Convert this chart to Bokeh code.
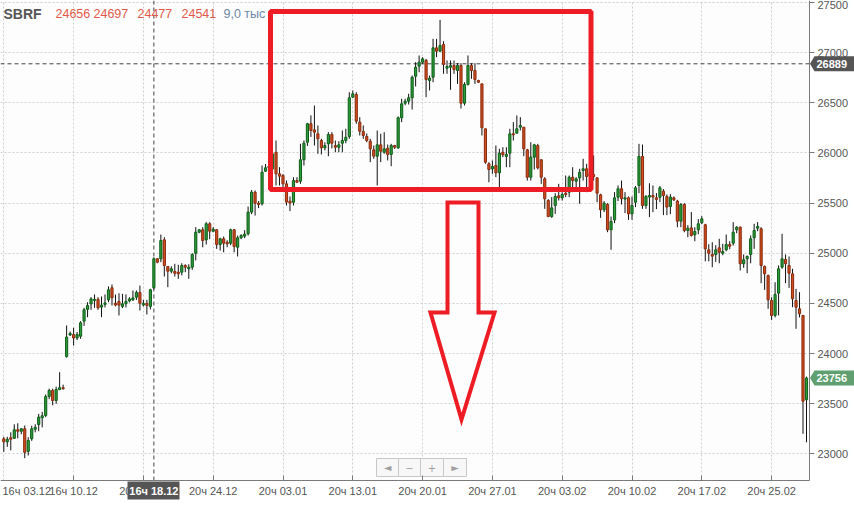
from bokeh.plotting import figure
from bokeh.models import (Range1d, FixedTicker, BoxAnnotation, ColumnDataSource,
                          LinearAxis, Grid)
from bokeh.embed import file_html
from bokeh.resources import INLINE
from bokeh.core.properties import value

# ---------------- data ----------------
symbol = "SBRF"
header_values = ["24656", "24697", "24477", "24541"]
header_volume = "9,0 тыс"

opens = [23150, 23120, 23160, 23155, 23240, 23225, 23250, 23025, 23150, 23245, 23293, 23360, 23383, 23572, 23632, 23532, 23640, 23660,
         23970, 24185, 24190, 24155, 24173, 24323, 24440, 24495, 24530, 24540, 24463, 24490, 24536, 24656, 24502, 24519, 24470, 24496, 24525, 24535, 24562, 24609, 24485, 24500, 24470,
         24656, 24945, 24944, 25134, 24868, 24821, 24818, 24811, 24811, 24878, 24845, 24861, 25000, 25210, 25234, 25134, 25294, 25220, 25234, 25087, 25144, 25110, 25100, 25234, 25060, 25154, 25170, 25194, 25410, 25609, 25499, 25493, 25818,
         25850, 25840, 26007, 25792, 25775, 25692, 25520, 25509, 25725, 25718, 25932, 26107, 26291, 26230,
         26191, 26124, 26051, 26091, 26184, 26074, 26057, 26097, 26124, 26164, 26556, 26583, 26307, 26214, 26164, 26117, 26031, 25968, 26081, 26007, 26047, 25985, 26074, 26051, 26351, 26496, 26516, 26550, 26765, 26865, 26905, 26922, 26722, 26755, 27048, 27015, 27081, 26845, 26855, 26872, 26822,
         26872, 26496, 26683, 26872, 26822, 26722, 26689, 26241, 25892, 25842, 25875, 25802, 26007, 25965, 25998, 26191, 26197, 26257, 26257, 26031, 25758, 25958, 26074, 25932, 25742, 25526, 25366, 25476, 25573, 25553, 25599, 25609, 25758, 25718, 25752, 25825, 25842, 25770,
         25785, 25752, 25583, 25433, 25486, 25234, 25333, 25559, 25643, 25540, 25553, 25393, 25509, 25676, 25965, 25476, 25560, 25576, 25553, 25559, 25619, 25566, 25466, 25553, 25520, 25320, 25486, 25227, 25253, 25184, 25234, 25304, 25284, 25034, 24988, 24988, 25054, 25000, 25034, 25087, 25100, 25234, 25260, 24895, 24945, 24988, 25154, 25250, 25244, 24868, 24778, 24529, 24380, 24602, 24861, 24938, 24878, 24795, 24529, 24446, 24380, 23540]

closes = [23120, 23145, 23145, 23240, 23225, 23250, 23015, 23133, 23250, 23265, 23366, 23380, 23572, 23632, 23532, 23642, 23660, 23650,
          24164, 24200, 24155, 24190, 24307, 24436, 24479, 24545, 24540, 24456, 24483, 24505, 24636, 24556, 24483, 24483, 24496, 24519, 24545, 24555, 24609, 24502, 24500, 24480, 24636,
          24945, 24911, 25127, 24878, 24821, 24845, 24800, 24795, 24878, 24861, 24861, 24988, 25210, 25234, 25127, 25294, 25220, 25240, 25087, 25144, 25100, 25094, 25234, 25067, 25154, 25177, 25190, 25410, 25609, 25499, 25486, 25808, 25852,
          25870, 25990, 25792, 25768, 25692, 25510, 25500, 25725, 25708, 25932, 26097, 26291, 26224, 26207,
          26141, 26051, 26074, 26184, 26097, 26057, 26081, 26124, 26157, 26550, 26590, 26317, 26217, 26174, 26124, 26041, 25968, 26081, 26017, 26041, 25985, 26074, 26057, 26351, 26490, 26516, 26550, 26755, 26855, 26905, 26938, 26732, 26745, 27048, 27015, 27071, 26882, 26862, 26872, 26832, 26872,
          26496, 26683, 26872, 26822, 26732, 26705, 26251, 25908, 25835, 25865, 25802, 25998, 25982, 25985, 26191, 26181, 26241, 26274, 26041, 25758, 25958, 26081, 25852, 25758, 25543, 25366, 25453, 25566, 25553, 25586, 25586, 25758, 25725, 25742, 25808, 25842, 25765, 25800,
          25765, 25599, 25433, 25499, 25234, 25317, 25553, 25643, 25543, 25553, 25393, 25476, 25652, 25965, 25476, 25566, 25576, 25560, 25536, 25652, 25576, 25460, 25560, 25533, 25320, 25486, 25227, 25250, 25177, 25217, 25294, 25343, 25044, 25000, 24971, 25034, 25010, 25017, 25087, 25070, 25210, 25260, 24895, 24935, 24968, 25144, 25227, 25267, 24878, 24795, 24536, 24380, 24589, 24845, 24945, 24895, 24801, 24546, 24462, 24396, 23525, 23756]

highs = [23170, 23170, 23215, 23295, 23305, 23255, 23283, 23166, 23280, 23295, 23399, 23419, 23592, 23650, 23650, 23670, 23814, 23690,
         24280, 24220, 24257, 24215, 24323, 24456, 24512, 24562, 24589, 24562, 24569, 24589, 24669, 24689, 24589, 24602, 24595, 24589, 24562, 24629, 24629, 24678, 24535, 24535, 24646,
         24960, 24950, 25187, 25160, 24870, 24870, 24895, 24885, 24900, 24890, 24890, 25000, 25260, 25240, 25260, 25310, 25310, 25260, 25240, 25154, 25167, 25130, 25245, 25240, 25177, 25190, 25230, 25466, 25630, 25626, 25520, 25875, 25890,
         25920, 26124, 26124, 25858, 25790, 25725, 25566, 25758, 25758, 26091, 26124, 26300, 26375, 26473,
         26274, 26141, 26107, 26207, 26207, 26124, 26117, 26224, 26241, 26606, 26623, 26606, 26357, 26274, 26194, 26141, 26074, 26224, 26191, 26207, 26084, 26091, 26080, 26364, 26540, 26540, 26590, 26772, 26905, 26972, 26955, 26938, 26772, 27138, 27138, 27327, 27114, 26922, 26922, 26922, 26895,
         26895, 26705, 26972, 26895, 26895, 26730, 26689, 26241, 25908, 25925, 26074, 26041, 26057, 26057, 26241, 26307, 26374, 26357, 26257, 26041, 26107, 26091, 26091, 25935, 25758, 25540, 25560, 25599, 25692, 25609, 25775, 25775, 25858, 25758, 25842, 25942, 25892, 25850,
         25975, 25758, 25593, 25520, 25500, 25366, 25610, 25676, 25725, 25610, 25566, 25566, 25670, 26091, 26084, 25580, 25698, 25676, 25600, 25670, 25640, 25586, 25590, 25566, 25533, 25500, 25500, 25280, 25410, 25260, 25340, 25370, 25294, 25090, 25110, 25080, 25144, 25094, 25187, 25120, 25310, 25270, 25267, 24988, 24978, 25177, 25294, 25310, 25260, 24878, 24788, 24562, 24711, 24878, 25194, 24988, 24968, 24845, 24645, 24612, 24385, 23770]

lows = [23020, 23070, 23035, 23150, 23155, 23195, 22957, 22984, 23130, 23215, 23226, 23264, 23366, 23545, 23485, 23500, 23640, 23640,
        23960, 24175, 24080, 24135, 24147, 24276, 24363, 24436, 24456, 24436, 24363, 24460, 24512, 24479, 24470, 24380, 24453, 24460, 24510, 24525, 24535, 24429, 24470, 24390, 24440,
        24640, 24900, 24911, 24768, 24662, 24800, 24768, 24745, 24780, 24811, 24745, 24835, 24928, 25200, 25060, 25087, 25140, 25210, 25044, 25027, 25010, 25060, 25080, 25010, 24968, 25140, 25150, 25177, 25390, 25376, 25450, 25476, 25810,
        25800, 25800, 25676, 25676, 25620, 25476, 25420, 25476, 25700, 25692, 25875, 26070, 26160, 26074,
        25992, 25985, 26025, 25968, 26045, 26007, 26007, 26007, 26097, 26141, 26550, 26291, 26174, 26141, 26107, 25908, 25942, 25676, 25908, 25992, 25925, 25868, 26040, 26041, 26307, 26476, 26483, 26433, 26663, 26805, 26889, 26556, 26623, 26705, 26955, 27005, 26789, 26789, 26630, 26789, 26689,
        26443, 26473, 26673, 26739, 26689, 26700, 26174, 25892, 25708, 25792, 25758, 25659, 25958, 25858, 25858, 26124, 26197, 26224, 25968, 25725, 25725, 25835, 25835, 25692, 25443, 25360, 25353, 25393, 25526, 25526, 25559, 25559, 25609, 25645, 25493, 25725, 25609, 25740,
        25725, 25509, 25353, 25410, 25210, 25034, 25300, 25520, 25486, 25400, 25333, 25333, 25460, 25599, 25443, 25443, 25360, 25410, 25440, 25510, 25380, 25380, 25390, 25520, 25260, 25260, 25210, 25160, 25167, 25120, 25190, 25290, 24920, 24920, 24861, 24914, 24900, 24980, 25020, 25040, 25077, 25200, 24828, 24855, 24801, 24900, 25044, 25220, 24702, 24635, 24446, 24336, 24360, 24380, 24845, 24702, 24655, 24462, 24247, 24360, 23200, 23115]

candle_index = list(range(len(opens)))

tick_index = [0, 20, 40, 60, 80, 100, 120, 140, 160, 180, 200, 220]
tick_labels = ["16ч 03.12", "16ч 10.12", "20ч 17.12", "20ч 24.12", "20ч 03.01", "20ч 13.01",
               "20ч 20.01", "20ч 27.01", "20ч 03.02", "20ч 10.02", "20ч 17.02", "20ч 25.02"]
price_ticks = [23000, 23500, 24000, 24500, 25000, 25500, 26000, 26500, 27000, 27500]

cursor_index = 43
cursor_label = "16ч 18.12"
cursor_price = 26889
last_price = 23756
zoom_buttons = ["◄", "−", "+", "►"]

# ---------------- layout helpers (pixel -> data) ----------------
W, H = 854, 505
AXIS_PX_X, AXIS_PX_Y = 809, 480


def ix(px):
    return (px - 3.3) / 3.49


def iy(py):
    return 27520 - 9.97 * py


X_START, X_AXIS, X_END = ix(0), ix(AXIS_PX_X), ix(W)
Y_END, Y_AXIS, Y_BOTTOM = iy(0), iy(AXIS_PX_Y), iy(H)

FONT = "Liberation Sans"
GREY = "#555555"
RED = "#ee1c25"

p = figure(width=W, height=H, output_backend="svg", toolbar_location=None,
           x_range=Range1d(X_START, X_END), y_range=Range1d(Y_BOTTOM, Y_END),
           x_axis_location=None, y_axis_location=None,
           min_border_left=0, min_border_right=0, min_border_top=0, min_border_bottom=0)
p.background_fill_color = "#fdfdfd"
p.border_fill_color = "#ffffff"
p.outline_line_color = None
p.grid.visible = False

# white margins (axis areas)
p.add_layout(BoxAnnotation(left=X_AXIS, fill_color="#ffffff", fill_alpha=1, line_alpha=0, level="underlay"))
p.add_layout(BoxAnnotation(top=Y_AXIS, fill_color="#ffffff", fill_alpha=1, line_alpha=0, level="underlay"))

# grids
xgrid = Grid(dimension=0, ticker=FixedTicker(ticks=tick_index), grid_line_color="#cfcfcf", grid_line_dash="2 2")
ygrid = Grid(dimension=1, ticker=FixedTicker(ticks=price_ticks), grid_line_color="#cfcfcf", grid_line_dash="2 2")
try:
    xgrid.cross_bounds = (Y_AXIS, Y_END)
    ygrid.cross_bounds = (X_START, X_AXIS)
except Exception:
    pass
p.add_layout(xgrid)
p.add_layout(ygrid)

# axes with fixed locations
yaxis = LinearAxis(ticker=FixedTicker(ticks=price_ticks), fixed_location=X_AXIS, bounds=(Y_AXIS, Y_END))
yaxis.major_label_text_font = FONT
yaxis.major_label_text_font_size = "11px"
yaxis.major_label_text_color = GREY
yaxis.major_tick_out = 5
yaxis.major_tick_in = 0
yaxis.minor_tick_line_color = None
yaxis.axis_line_color = "#7a7a7a"
yaxis.major_tick_line_color = "#7a7a7a"
yaxis.major_label_standoff = 3
p.add_layout(yaxis, "right")

xaxis = LinearAxis(ticker=FixedTicker(ticks=tick_index[1:]), fixed_location=Y_AXIS, bounds=(X_START, X_AXIS))
xaxis.major_label_overrides = {t: lab for t, lab in zip(tick_index[1:], tick_labels[1:])}
xaxis.major_label_text_font = FONT
xaxis.major_label_text_font_size = "11px"
xaxis.major_label_text_color = GREY
xaxis.major_tick_in = 5
xaxis.major_tick_out = 0
xaxis.minor_tick_line_color = None
xaxis.axis_line_color = "#7a7a7a"
xaxis.major_tick_line_color = "#7a7a7a"
xaxis.major_label_standoff = 4
p.add_layout(xaxis, "below")

# first date label, pushed inside the canvas like in the original
p.text(x=[ix(2)], y=[iy(490)], text=[tick_labels[0]], text_font=value(FONT), text_font_size="11px",
       text_color=GREY, text_align="left", text_baseline="middle")

# cross-hair lines (behind candles)
p.segment(x0=[cursor_index], y0=[Y_AXIS], x1=[cursor_index], y1=[Y_END],
          line_color="#444444", line_dash="4 3", line_width=1)
p.segment(x0=[X_START], y0=[cursor_price], x1=[X_AXIS], y1=[cursor_price],
          line_color="#444444", line_dash="4 3", line_width=1)

# candles
up = [c >= o for o, c in zip(opens, closes)]
src = ColumnDataSource(dict(
    x=candle_index, o=opens, c=closes, h=highs, l=lows,
    top=[max(o, c) for o, c in zip(opens, closes)],
    bottom=[min(o, c) for o, c in zip(opens, closes)],
    fill=["#2e9c3a" if u else "#d24d1f" for u in up],
    edge=["#0d5e18" if u else "#8a2b0d" for u in up],
))
p.segment(x0="x", y0="l", x1="x", y1="h", source=src, line_color="#111111", line_width=1)
p.vbar(x="x", width=0.62, top="top", bottom="bottom", source=src,
       fill_color="fill", line_color="edge", line_width=1)

# red annotation frame
p.add_layout(BoxAnnotation(left=ix(270), right=ix(590.5), top=iy(11), bottom=iy(189),
                           fill_alpha=0, line_color=RED, line_alpha=1, line_width=5))

# red arrow outline
arrow_px = [(447, 202), (478, 202), (478, 312), (494, 312), (461, 419), (430, 312), (447, 312)]
p.patch([ix(a) for a, b in arrow_px], [iy(b) for a, b in arrow_px],
        fill_alpha=0, line_color=RED, line_width=4, line_join="miter")

# zoom control
edges = [376, 398, 420, 443, 466]
p.quad(left=[ix(e) for e in edges[:-1]], right=[ix(e) for e in edges[1:]],
       top=iy(458), bottom=iy(476), fill_color="#f7f7f7", line_color="#c8c8c8")
p.text(x=[ix((a + b) / 2) for a, b in zip(edges[:-1], edges[1:])], y=[iy(467)] * 4,
       text=zoom_buttons, text_align="center", text_baseline="middle",
       text_color="#a0a0a0", text_font=value("DejaVu Sans"), text_font_size="10px")

# header
hdr_y = iy(13)
p.text(x=[ix(3)], y=[hdr_y], text=[symbol], text_font=value(FONT), text_font_size="14px",
       text_font_style="bold", text_color=GREY, text_baseline="alphabetic")
p.text(x=[ix(px) for px in (55, 93, 137, 181)], y=[hdr_y] * 4, text=header_values,
       text_font=value(FONT), text_font_size="12.5px", text_color="#e05a4b", text_baseline="alphabetic")
p.text(x=[ix(223)], y=[hdr_y], text=[header_volume], text_font=value(FONT), text_font_size="12.5px",
       text_color="#6c87a6", text_baseline="alphabetic")

# cursor time tag
p.quad(left=[ix(127)], right=[ix(179)], top=[iy(481)], bottom=[iy(499)],
       fill_color=GREY, line_color=None, level="overlay")
p.text(x=[cursor_index], y=[iy(490)], text=[cursor_label], text_font=value(FONT),
       text_font_size="11px", text_font_style="bold", text_color="#ffffff",
       text_align="center", text_baseline="middle", level="overlay")


# price tags
def tag_shape(price):
    hh = 7.5 * 9.97
    return ([ix(809.5), ix(814), ix(W), ix(W), ix(814)],
            [price, price + hh, price + hh, price - hh, price - hh])


tags = [(cursor_price, GREY), (last_price, "#5f9f70")]
shapes = [tag_shape(pr) for pr, _ in tags]
p.patches(xs=[s[0] for s in shapes], ys=[s[1] for s in shapes],
          fill_color=[c for _, c in tags], line_color=None, level="overlay")
p.text(x=[ix(816)] * 2, y=[pr for pr, _ in tags], text=[str(pr) for pr, _ in tags],
       text_font=value(FONT), text_font_size="11px", text_font_style="bold", text_color="#ffffff",
       text_align="left", text_baseline="middle", level="overlay")

open("out.html", "w").write(file_html(p, INLINE))
